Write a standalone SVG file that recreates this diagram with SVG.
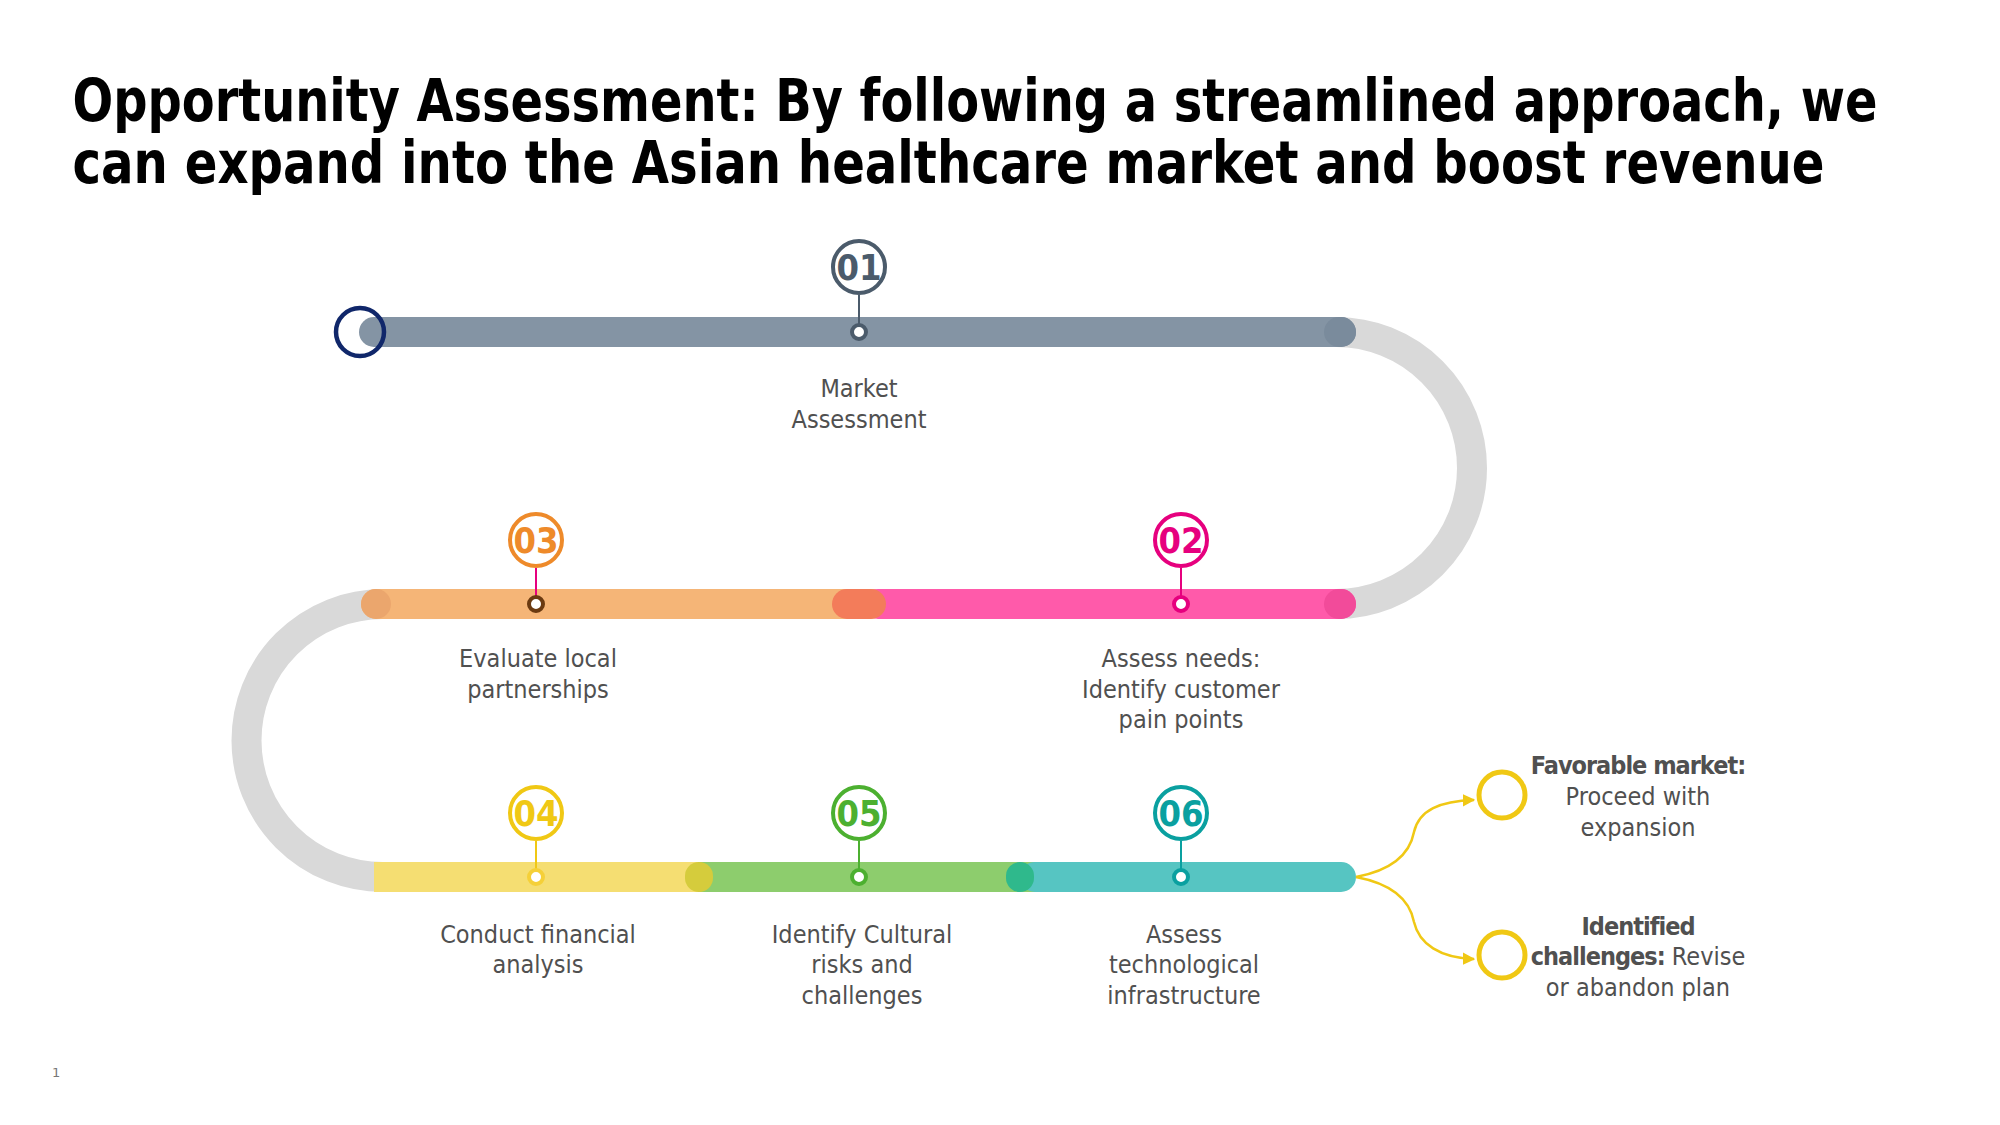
<svg xmlns="http://www.w3.org/2000/svg" width="2000" height="1125" viewBox="0 0 2000 1125">
<defs>
<style>
.title{font-family:'DejaVu Sans Condensed',Lato,'DejaVu Sans',sans-serif;font-weight:700;font-size:58px;fill:#000}
.lbl{font-family:'DejaVu Sans Condensed',Lato,'DejaVu Sans',sans-serif;font-size:25px;fill:#505050;text-anchor:middle}
.b{font-weight:700;letter-spacing:-1px}
.num{font-family:'DejaVu Sans Condensed',Lato,'DejaVu Sans',sans-serif;font-weight:700;font-size:36px;text-anchor:middle}
.ring{fill:#fff;stroke-width:4}
.dot{fill:#fff;stroke-width:4}
.stem{stroke-width:2}
.arc{fill:none;stroke:#d9d9d9;stroke-width:30}
.branch{fill:none;stroke:#f0c814;stroke-width:2.5}
.goal{fill:none;stroke:#f0c814;stroke-width:5}
</style>
<marker id="arr" viewBox="0 0 10 10" refX="9" refY="5" markerWidth="5" markerHeight="5" orient="auto" markerUnits="strokeWidth">
<path d="M0 0 L10 5 L0 10 z" fill="#f0c814"/>
</marker>
</defs>
<rect width="2000" height="1125" fill="#fff"/>

<g id="title">
<text class="title" transform="matrix(0.88 0 0 1 72.5 121)" x="0" y="0" textLength="2051" lengthAdjust="spacingAndGlyphs">Opportunity Assessment: By following a streamlined approach, we</text>
<text class="title" transform="matrix(0.88 0 0 1 72.5 183)" x="0" y="0" textLength="1991" lengthAdjust="spacingAndGlyphs">can expand into the Asian healthcare market and boost revenue</text>
</g>

<g id="track">
<path class="arc" d="M1336 332 A136 136 0 0 1 1336 604"/>
<path class="arc" d="M383 604 A136.5 136.5 0 0 0 383 877"/>
<!-- top bar -->
<rect x="359" y="317" width="997" height="30" rx="15" fill="#8494a4"/>
<rect x="1324" y="317" width="32" height="30" rx="15" fill="#7a8b9c"/>
<!-- middle bar -->
<rect x="361" y="589" width="526" height="30" rx="15" fill="#f5b577"/>
<rect x="361" y="589" width="30" height="30" rx="15" fill="#eba66d"/>
<rect x="863" y="589" width="493" height="30" rx="15" fill="#ff5aaa"/>
<rect x="1324" y="589" width="32" height="30" rx="15" fill="#f24b9a"/>
<rect x="832" y="589" width="54" height="30" rx="15" fill="#f37c5a"/>
<!-- bottom bar -->
<rect x="374" y="862" width="338" height="30" fill="#f5de72"/>
<rect x="698" y="862" width="337" height="30" fill="#8dcd6d"/>
<rect x="1020" y="862" width="336" height="30" rx="15" fill="#56c5c2"/>
<rect x="685" y="862" width="28" height="30" rx="14" fill="#d5cc3c"/>
<rect x="1006" y="862" width="28" height="30" rx="14" fill="#2fb98c"/>
</g>

<g id="node-start">
<circle cx="360" cy="332" r="24" fill="none" stroke="#10276a" stroke-width="4.5"/>
</g>

<g id="node-01">
<line class="stem" x1="859" y1="295" x2="859" y2="325" stroke="#4b5b6b"/>
<circle class="ring" cx="859" cy="267" r="26" stroke="#4b5b6b"/>
<text class="num" x="859" y="280" fill="#4b5b6b">01</text>
<circle class="dot" cx="859" cy="332" r="7" stroke="#4b5b6b"/>
<text class="lbl"><tspan x="859" y="397">Market</tspan><tspan x="859" y="428">Assessment</tspan></text>
</g>

<g id="node-02">
<line class="stem" x1="1181" y1="568" x2="1181" y2="597" stroke="#e6007e"/>
<circle class="ring" cx="1181" cy="540" r="26" stroke="#e6007e"/>
<text class="num" x="1181" y="553" fill="#e6007e">02</text>
<circle class="dot" cx="1181" cy="604" r="7" stroke="#e6007e"/>
<text class="lbl"><tspan x="1181" y="667">Assess needs:</tspan><tspan x="1181" y="698">Identify customer</tspan><tspan x="1181" y="728">pain points</tspan></text>
</g>

<g id="node-03">
<line class="stem" x1="536" y1="568" x2="536" y2="597" stroke="#e6007e"/>
<circle class="ring" cx="536" cy="540" r="26" stroke="#ee8a2a"/>
<text class="num" x="536" y="553" fill="#ee8a2a">03</text>
<circle class="dot" cx="536" cy="604" r="7" stroke="#6b3a10"/>
<text class="lbl"><tspan x="538" y="667">Evaluate local</tspan><tspan x="538" y="698">partnerships</tspan></text>
</g>

<g id="node-04">
<line class="stem" x1="536" y1="841" x2="536" y2="870" stroke="#f0c814"/>
<circle class="ring" cx="536" cy="813" r="26" stroke="#f0c814"/>
<text class="num" x="536" y="826" fill="#f0c814">04</text>
<circle class="dot" cx="536" cy="877" r="7" stroke="#f5d038"/>
<text class="lbl"><tspan x="538" y="943">Conduct financial</tspan><tspan x="538" y="973">analysis</tspan></text>
</g>

<g id="node-05">
<line class="stem" x1="859" y1="841" x2="859" y2="870" stroke="#4cb030"/>
<circle class="ring" cx="859" cy="813" r="26" stroke="#4cb030"/>
<text class="num" x="859" y="826" fill="#4cb030">05</text>
<circle class="dot" cx="859" cy="877" r="7" stroke="#4cb030"/>
<text class="lbl"><tspan x="862" y="943">Identify Cultural</tspan><tspan x="862" y="973">risks and</tspan><tspan x="862" y="1004">challenges</tspan></text>
</g>

<g id="node-06">
<line class="stem" x1="1181" y1="841" x2="1181" y2="870" stroke="#0aa0a0"/>
<circle class="ring" cx="1181" cy="813" r="26" stroke="#0aa0a0"/>
<text class="num" x="1181" y="826" fill="#0aa0a0">06</text>
<circle class="dot" cx="1181" cy="877" r="7" stroke="#0aa0a0"/>
<text class="lbl"><tspan x="1184" y="943">Assess</tspan><tspan x="1184" y="973">technological</tspan><tspan x="1184" y="1004">infrastructure</tspan></text>
</g>

<g id="connectors">
<path class="branch" marker-end="url(#arr)" d="M1356 877 C1393 870 1410 853 1414 832 C1419 810 1440 801 1474 800"/>
<path class="branch" marker-end="url(#arr)" d="M1356 877 C1393 884 1410 901 1414 922 C1419 944 1440 958 1474 959"/>
</g>

<g id="node-favorable">
<circle class="goal" cx="1502" cy="795" r="23"/>
<text class="lbl"><tspan x="1638" y="774" class="b">Favorable market:</tspan><tspan x="1638" y="805">Proceed with</tspan><tspan x="1638" y="836">expansion</tspan></text>
</g>

<g id="node-challenges">
<circle class="goal" cx="1502" cy="955" r="23"/>
<text class="lbl"><tspan x="1638" y="935" class="b">Identified</tspan><tspan x="1638" y="965"><tspan class="b">challenges:</tspan> Revise</tspan><tspan x="1638" y="996">or abandon plan</tspan></text>
</g>

<text x="52" y="1077" font-family="'DejaVu Sans',sans-serif" font-size="13" fill="#777">1</text>
</svg>
